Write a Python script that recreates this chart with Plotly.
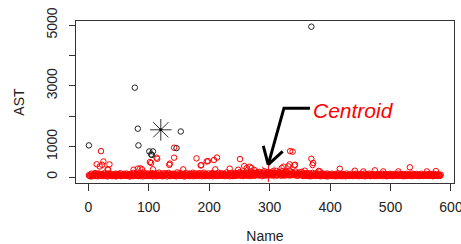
import plotly.graph_objects as go

# ---------------- data ----------------
# red cluster: dense band (Name index, AST) - odd names
band_name = [1,3,5,7,9,11,13,15,17,19,
             21,23,25,27,29,31,33,35,37,39,
             41,43,45,47,49,51,53,55,57,59,
             61,63,65,67,69,71,73,75,77,79,
             81,83,85,87,89,91,93,95,97,99,
             101,103,105,107,109,111,113,115,117,119,
             121,123,125,127,129,131,133,135,137,139,
             141,143,145,147,149,151,153,155,157,159,
             161,163,165,167,169,171,173,175,177,179,
             181,183,185,187,189,191,193,195,197,199,
             201,203,205,207,209,211,213,215,217,219,
             221,223,225,227,229,231,233,235,237,239,
             241,243,245,247,249,251,253,255,257,259,
             261,263,265,267,269,271,273,275,277,279,
             281,283,285,287,289,291,293,295,297,299,
             301,303,305,307,309,311,313,315,317,319,
             321,323,325,327,329,331,333,335,337,339,
             341,343,345,347,349,351,353,355,357,359,
             361,363,365,367,369,371,373,375,377,379,
             381,383,385,387,389,391,393,395,397,399,
             401,403,405,407,409,411,413,415,417,419,
             421,423,425,427,429,431,433,435,437,439,
             441,443,445,447,449,451,453,455,457,459,
             461,463,465,467,469,471,473,475,477,479,
             481,483,485,487,489,491,493,495,497,499,
             501,503,505,507,509,511,513,515,517,519,
             521,523,525,527,529,531,533,535,537,539,
             541,543,545,547,549,551,553,555,557,559,
             561,563,565,567,569,571,573,575,577,579,
             581,583]
band_ast = [60,25,110,45,80,130,30,95,120,55,
            40,100,70,130,35,90,115,50,105,65,
            30,85,110,45,100,60,125,35,75,105,
            55,115,40,90,20,110,70,135,45,100,
            65,30,120,80,110,50,140,35,95,115,
            45,85,130,25,105,60,120,40,145,70,
            95,30,125,55,115,80,135,40,100,65,
            110,35,85,150,50,125,70,110,30,95,
            130,55,75,115,40,100,140,60,120,35,
            90,125,50,115,70,145,30,105,60,120,
            45,95,130,70,110,35,85,140,55,110,
            120,40,100,75,150,50,115,65,130,30,
            95,140,55,120,80,165,40,130,105,60,
            150,70,125,35,180,90,135,50,115,150,
            60,170,95,130,40,190,120,75,160,105,
            140,55,185,85,135,200,70,165,110,45,
            195,125,80,175,150,60,210,100,160,130,
            75,180,115,50,150,90,170,40,125,105,
            60,130,30,110,85,135,45,95,120,70,
            105,40,80,120,55,100,30,115,65,90,
            50,110,75,35,100,60,120,45,85,105,
            30,95,65,115,50,80,40,105,70,100,
            55,110,35,90,60,105,45,80,115,40,
            95,65,110,30,85,100,50,75,35,105,
            60,90,40,110,70,100,45,85,55,105,
            35,95,65,100,40,80,110,50,90,60,
            100,30,75,105,45,85,60,115,40,95,
            70,100,35,90,55,105,45,80,65,95,
            40,85,110,50,95,30,100,70,60,90,
            45,75]

# red cluster: dense band - even names
band2_name = [2,4,6,8,10,12,14,16,18,20,
              22,24,26,28,30,32,34,36,38,40,
              42,44,46,48,50,52,54,56,58,60,
              62,64,66,68,70,72,74,76,78,80,
              82,84,86,88,90,92,94,96,98,100,
              102,104,106,108,110,112,114,116,118,120,
              122,124,126,128,130,132,134,136,138,140,
              142,144,146,148,150,152,154,156,158,160,
              162,164,166,168,170,172,174,176,178,180,
              182,184,186,188,190,192,194,196,198,200,
              202,204,206,208,210,212,214,216,218,220,
              222,224,226,228,230,232,234,236,238,240,
              242,244,246,248,250,252,254,256,258,260,
              262,264,266,268,270,272,274,276,278,280,
              282,284,286,288,290,292,294,296,298,300,
              302,304,306,308,310,312,314,316,318,320,
              322,324,326,328,330,332,334,336,338,340,
              342,344,346,348,350,352,354,356,358,360,
              362,364,366,368,370,372,374,376,378,380,
              382,384,386,388,390,392,394,396,398,400,
              402,404,406,408,410,412,414,416,418,420,
              422,424,426,428,430,432,434,436,438,440,
              442,444,446,448,450,452,454,456,458,460,
              462,464,466,468,470,472,474,476,478,480,
              482,484,486,488,490,492,494,496,498,500,
              502,504,506,508,510,512,514,516,518,520,
              522,524,526,528,530,532,534,536,538,540,
              542,544,546,548,550,552,554,556,558,560,
              562,564,566,568,570,572,574,576,578,580,
              582]
band2_ast = [35,75,20,55,90,40,65,25,85,50,
             70,30,60,45,95,20,55,80,35,60,
             75,40,20,65,50,90,30,55,45,80,
             35,60,85,25,70,45,30,65,95,40,
             50,75,35,60,20,85,55,40,70,30,
             80,45,60,35,90,25,65,50,40,75,
             30,60,45,90,20,55,70,35,50,85,
             40,65,25,55,80,35,60,45,75,20,
             60,40,90,30,65,50,25,75,45,55,
             70,35,60,25,85,45,65,40,50,30,
             75,60,25,45,90,55,35,65,40,70,
             50,80,30,60,45,95,25,70,55,40,
             65,35,85,50,110,45,75,30,60,95,
             40,120,55,80,35,100,65,45,130,70,
             110,45,90,60,140,75,50,115,85,60,
             95,130,50,110,70,45,120,85,60,100,
             70,45,105,60,120,80,50,95,65,110,
             55,90,40,100,70,60,85,35,75,50,
             40,70,55,25,60,45,80,35,55,40,
             65,25,50,75,35,60,45,20,70,40,
             55,30,65,45,25,60,40,70,30,50,
             65,40,25,55,70,35,60,45,30,55,
             40,65,50,30,75,45,35,60,25,55,
             45,70,35,55,40,60,30,65,50,35,
             55,40,70,30,60,45,25,55,40,65,
             50,30,60,45,70,35,55,40,60,30,
             45,65,50,35,60,40,75,30,55,45,
             60,40,55,30,65,45,35,60,50,40,
             55,35,60,45,30,65,40,55,35,50,
             40]

# red cluster: points above the band
upper_name = [14,19,21,23,25,32,33,35,75,82,86,89,102,104,107,113,114,134,135,142,142,
              157,179,186,187,196,198,208,210,213,234,248,251,258,262,267,270,275,
              320,323,331,333,334,338,341,342,358,369,371,372,381,383,
              416,441,455,474,488,513,532,560,575]
upper_ast = [420,348,852,400,510,252,240,416,240,275,285,252,492,460,252,636,600,400,440,636,964,
             252,613,380,393,512,525,560,252,640,275,240,590,361,295,341,295,230,
             295,341,348,416,852,833,384,404,207,600,393,460,197,184,
             272,207,184,220,184,184,320,184,195]

# black cluster (outliers)
black_name = [1,77,82,83,101,104,105,107,146,153,369]
black_ast = [1040,2940,1590,1040,841,745,725,841,952,1498,4946]

# cluster centroids
centroid_black = (120, 1553)
centroid_red = (298, 130)

x_ticks = [0, 100, 200, 300, 400, 500, 600]
y_ticks = [0, 1000, 2000, 3000, 4000, 5000]
y_ticklabels = ["0", "1000", "", "3000", "", "5000"]

# annotation geometry (data coordinates)
arrow_path = [(366.7, 2266), (323.7, 2266), (297.7, 407)]
arrow_left = (289.5, 1028)
arrow_right = (321.6, 841)
label_pos = (438.9, 2200)

# ---------------- figure ----------------
FONT = "Liberation Sans, Arial, Helvetica, sans-serif"
RED = "#ff0000"

fig = go.Figure()
fig.add_trace(go.Scatter(
    x=band_name + band2_name + upper_name, y=band_ast + band2_ast + upper_ast, mode="markers",
    marker=dict(symbol="circle-open", size=5.5, color=RED, line=dict(width=1, color=RED)),
    showlegend=False, hoverinfo="skip"))
fig.add_trace(go.Scatter(
    x=black_name, y=black_ast, mode="markers",
    marker=dict(symbol="circle-open", size=5.5, color="#222", line=dict(width=1, color="#222")),
    showlegend=False, hoverinfo="skip"))
fig.add_trace(go.Scatter(
    x=[centroid_red[0]], y=[centroid_red[1]], mode="markers",
    marker=dict(symbol="asterisk-open", size=15, color=RED, line=dict(width=1, color=RED)),
    showlegend=False, hoverinfo="skip"))
fig.add_trace(go.Scatter(
    x=[centroid_black[0]], y=[centroid_black[1]], mode="markers",
    marker=dict(symbol="asterisk-open", size=18, color="#333", line=dict(width=1, color="#333")),
    showlegend=False, hoverinfo="skip"))
fig.add_trace(go.Scatter(
    x=[centroid_black[0]], y=[centroid_black[1]], mode="markers",
    marker=dict(symbol="circle", size=3, color="#000"),
    showlegend=False, hoverinfo="skip"))

# bent arrow
path = "M " + " L ".join(f"{px},{py}" for px, py in arrow_path)
fig.add_shape(type="path", path=path, xref="x", yref="y",
              line=dict(color="black", width=3))
tip = arrow_path[-1]
for arm in (arrow_left, arrow_right):
    fig.add_shape(type="line", x0=tip[0], y0=tip[1], x1=arm[0], y1=arm[1],
                  xref="x", yref="y", line=dict(color="black", width=3))

fig.add_annotation(x=label_pos[0], y=label_pos[1], xref="x", yref="y",
                   text="<i>Centroid</i>", showarrow=False,
                   font=dict(family=FONT, size=21, color=RED),
                   xanchor="center", yanchor="middle")

axis_common = dict(showgrid=False, zeroline=False, showline=True, mirror=True,
                   linecolor="#333", linewidth=1, ticks="outside", tickcolor="#333",
                   tickwidth=1, automargin=False, ticklabeloverflow="allow",
                   tickfont=dict(family=FONT, size=14, color="#222"))

fig.update_layout(
    width=461, height=244,
    margin=dict(l=76, r=7, t=21, b=61),
    paper_bgcolor="white", plot_bgcolor="white",
    font=dict(family=FONT, size=14, color="#222"),
    xaxis=dict(range=[-20.3, 605], tickvals=x_ticks, ticklen=7, ticklabelstandoff=4,
               title=dict(text="Name", font=dict(family=FONT, size=14, color="#222"), standoff=19),
               **axis_common),
    yaxis=dict(range=[-197, 5133], tickvals=y_ticks, ticktext=y_ticklabels, ticklen=6,
               tickangle=-90, ticklabelstandoff=6,
               title=dict(text="AST", font=dict(family=FONT, size=14, color="#222"), standoff=16),
               **axis_common),
)

fig.write_html("out.html", config={"displayModeBar": False},
               post_script="document.body.style.margin='0';document.body.style.overflow='hidden';")
